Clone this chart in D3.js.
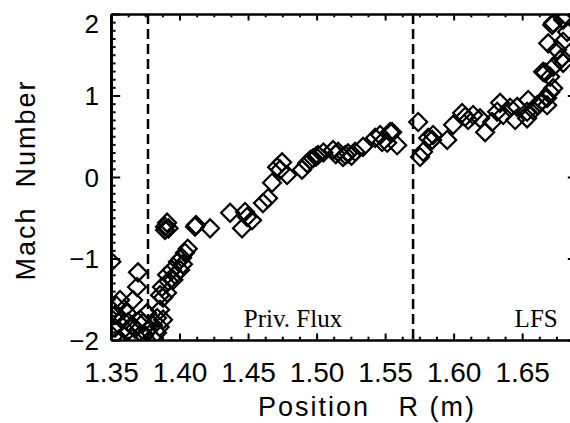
<!DOCTYPE html>
<html>
<head>
<meta charset="utf-8">
<script src="https://cdn.jsdelivr.net/npm/d3@7"></script>
<style>
  body { margin: 0; background: #fff; }
  svg { display: block; }
  .tick text { font-family: "Liberation Sans", Arial, sans-serif; fill: #000; }
</style>
</head>
<body>
<script>
// position R (m) and Mach number
var posR = [
  1.3502, 1.3697, 1.369, 1.3661, 1.3566, 1.3529, 1.3617, 1.3653, 1.358, 1.3712,
  1.3763, 1.3807, 1.3836, 1.3858, 1.388, 1.3909, 1.3836, 1.377, 1.3734, 1.3529,
  1.3515, 1.3617, 1.354, 1.3595, 1.3625, 1.3675, 1.374, 1.380, 1.3855, 1.388,
  1.356, 1.366,
  1.3858, 1.3872, 1.3909, 1.3945, 1.3967, 1.4004, 1.3989, 1.4018, 1.404, 1.392,
  1.3955, 1.4025, 1.406,
  1.3894, 1.3894, 1.3909, 1.392, 1.4113, 1.412, 1.4223,
  1.4369, 1.4478, 1.4493, 1.4456, 1.4529,
  1.4609, 1.4646, 1.4675, 1.4712, 1.4748, 1.4785, 1.4734, 1.4894, 1.4931, 1.4974,
  1.5011, 1.512, 1.5157, 1.5193, 1.523, 1.5281, 1.5339, 1.5427, 1.5464, 1.5478,
  1.5551, 1.5588, 1.5515, 1.5536, 1.4955, 1.4995, 1.505, 1.514, 1.521, 1.5255,
  1.5741, 1.5755, 1.5777, 1.5814, 1.5843, 1.5953, 1.5996, 1.6084, 1.6142, 1.6193,
  1.623, 1.6281, 1.6339, 1.6412, 1.6449, 1.6544, 1.658, 1.6631, 1.6682, 1.6704,
  1.6668, 1.6726, 1.6799,
  1.585, 1.6062, 1.6106, 1.6318, 1.6361, 1.6464, 1.6536, 1.6536, 1.6609, 1.6726,
  1.6682, 1.6653, 1.6704, 1.6777, 1.6755, 1.669, 1.6799, 1.6792, 1.6828, 1.6726,
  1.6799, 1.6814, 1.6719
];
var mach = [
  -1.04, -1.17, -1.35, -1.51, -1.51, -1.69, -1.67, -1.82, -1.75, -1.75,
  -1.67, -1.82, -1.73, -1.63, -1.48, -1.42, -1.91, -1.88, -1.79, -1.85,
  -1.96, -1.90, -1.58, -1.62, -1.78, -1.86, -1.95, -1.97, -1.84, -1.75,
  -1.99, -1.98,
  -1.45, -1.35, -1.20, -1.14, -1.20, -1.14, -1.04, -0.99, -0.93, -1.28,
  -1.26, -1.07, -0.88,
  -0.65, -0.61, -0.56, -0.63, -0.61, -0.59, -0.63,
  -0.44, -0.43, -0.49, -0.63, -0.53,
  -0.32, -0.26, -0.07, 0.12, 0.18, 0.025, 0.09, 0.09, 0.17, 0.23,
  0.27, 0.33, 0.31, 0.245, 0.29, 0.31, 0.37, 0.48, 0.515, 0.43,
  0.55, 0.39, 0.42, 0.55, 0.21, 0.25, 0.30, 0.28, 0.27, 0.26,
  0.675, 0.245, 0.31, 0.48, 0.455, 0.455, 0.64, 0.74, 0.76, 0.72,
  0.55, 0.675, 0.91, 0.85, 0.70, 0.945, 0.82, 0.91, 0.88, 1.04,
  1.28, 1.35, 1.40,
  0.515, 0.785, 0.70, 0.80, 0.76, 0.86, 0.80, 0.72, 0.88, 1.09,
  0.97, 1.29, 1.23, 1.44, 1.56, 1.64, 1.66, 1.46, 1.78, 1.89,
  1.93, 1.99, 1.865
];
var xTicks = [1.35, 1.40, 1.45, 1.50, 1.55, 1.60, 1.65];
var yTicks = [-2, -1, 0, 1, 2];
var sepLines = [1.377, 1.5704];
var regionLabels = [
  {text: "Priv. Flux", r: 1.4828},
  {text: "LFS", r: 1.6602}
];

var svgWidth = 570;
var svgHeight = 423;

var margin = {top: 14, left: 111, bottom: 340, right: 577};

var svg = d3.select("body")
  .append("svg")
  .attr("width", svgWidth)
  .attr("height", svgHeight);

var xScale = d3.scaleLinear()
  .domain([1.35, 1.69])
  .range([margin.left, margin.right]);

var yScale = d3.scaleLinear()
  .domain([-2, 2])
  .range([margin.bottom, margin.top]);

var xMinor = d3.range(1.35, 1.69, 0.0125).filter(v => Math.abs((v / 0.05) - Math.round(v / 0.05)) > 0.01);
var yMinor = d3.range(-2, 2.001, 0.1).filter(v => Math.abs(v - Math.round(v)) > 0.01);

svg.append("clipPath")
  .attr("id", "plotclip")
  .append("rect")
  .attr("x", margin.left)
  .attr("y", margin.top)
  .attr("width", margin.right - margin.left)
  .attr("height", margin.bottom - margin.top);

// separatrix dashed lines
svg.selectAll(".sep")
  .data(sepLines)
  .enter()
  .append("line")
  .attr("class", "sep")
  .attr("x1", d => xScale(d))
  .attr("x2", d => xScale(d))
  .attr("y1", margin.top)
  .attr("y2", margin.bottom)
  .attr("stroke", "#000")
  .attr("stroke-width", 2.5)
  .attr("stroke-dasharray", "10,5");

// region labels
svg.selectAll(".region")
  .data(regionLabels)
  .enter()
  .append("text")
  .attr("class", "region")
  .attr("x", d => xScale(d.r))
  .attr("y", yScale(-1.84))
  .attr("text-anchor", "middle")
  .style("font-family", "'Liberation Serif', 'Times New Roman', serif")
  .style("font-size", "25px")
  .text(d => d.text);

// diamonds
var diamond = d3.symbol().type(d3.symbolSquare).size(162);
var pts = posR.map((r, i) => ({r: r, m: mach[i]}));

svg.append("g")
  .attr("clip-path", "url(#plotclip)")
  .selectAll("path")
  .data(pts)
  .enter()
  .append("path")
  .attr("d", diamond)
  .attr("transform", d => `translate(${xScale(d.r)},${yScale(d.m)}) rotate(45)`)
  .attr("fill", "none")
  .attr("stroke", "#000")
  .attr("stroke-width", 2.2);

// axes, ticks pointing inwards
function styleAxis(g, width) {
  g.selectAll("line").attr("stroke", "#000").attr("stroke-width", 2);
  g.select(".domain").attr("stroke", "#000").attr("stroke-width", width);
}

svg.append("g")
  .attr("transform", `translate(0, ${margin.bottom})`)
  .call(d3.axisBottom(xScale).tickValues(xMinor).tickSize(-3.3).tickSizeOuter(0).tickFormat(""))
  .call(g => g.select(".domain").remove())
  .call(g => styleAxis(g, 2));

svg.append("g")
  .attr("transform", `translate(0, ${margin.top})`)
  .call(d3.axisTop(xScale).tickValues(xMinor).tickSize(-3.3).tickSizeOuter(0).tickFormat(""))
  .call(g => g.select(".domain").remove())
  .call(g => styleAxis(g, 2));

svg.append("g")
  .attr("transform", `translate(${margin.left}, 0)`)
  .call(d3.axisLeft(yScale).tickValues(yMinor).tickSize(-4.6).tickSizeOuter(0).tickFormat(""))
  .call(g => g.select(".domain").remove())
  .call(g => styleAxis(g, 2));

svg.append("g")
  .attr("transform", `translate(${margin.right}, 0)`)
  .call(d3.axisRight(yScale).tickValues(yMinor).tickSize(-4.6).tickSizeOuter(0).tickFormat(""))
  .call(g => g.select(".domain").remove())
  .call(g => styleAxis(g, 2));

var xAxis = svg.append("g")
  .attr("transform", `translate(0, ${margin.bottom})`)
  .call(d3.axisBottom(xScale).tickValues(xTicks).tickSize(-6.5).tickSizeOuter(0).tickPadding(22).tickFormat(d3.format(".2f")))
  .call(g => styleAxis(g, 2.5));
xAxis.selectAll("text").style("font-size", "28px");

svg.append("g")
  .attr("transform", `translate(0, ${margin.top})`)
  .call(d3.axisTop(xScale).tickValues(xTicks).tickSize(-6.5).tickSizeOuter(0).tickFormat(""))
  .call(g => styleAxis(g, 2.5));

var yAxis = svg.append("g")
  .attr("transform", `translate(${margin.left}, 0)`)
  .call(d3.axisLeft(yScale).tickValues(yTicks).tickSize(-9.2).tickSizeOuter(0).tickPadding(12).tickFormat(d3.format("d")))
  .call(g => styleAxis(g, 3));
yAxis.selectAll("text")
  .style("font-size", "26px")
  .attr("dy", d => d == 2 ? "0.72em" : "0.36em");

svg.append("g")
  .attr("transform", `translate(${margin.right}, 0)`)
  .call(d3.axisRight(yScale).tickValues(yTicks).tickSize(-9.2).tickSizeOuter(0).tickFormat(""))
  .call(g => styleAxis(g, 2.5));

// axis titles
svg.append("text")
  .attr("x", 367)
  .attr("y", 416)
  .attr("text-anchor", "middle")
  .style("font-family", "'Liberation Sans', Arial, sans-serif")
  .style("font-size", "27px")
  .style("letter-spacing", "2px")
  .style("white-space", "pre")
  .text("Position   R (m)");

svg.append("text")
  .attr("transform", "translate(35, 180) rotate(-90)")
  .attr("text-anchor", "middle")
  .style("font-family", "'Liberation Sans', Arial, sans-serif")
  .style("font-size", "27px")
  .style("letter-spacing", "2px")
  .style("white-space", "pre")
  .text("Mach  Number");
</script>
</body>
</html>
